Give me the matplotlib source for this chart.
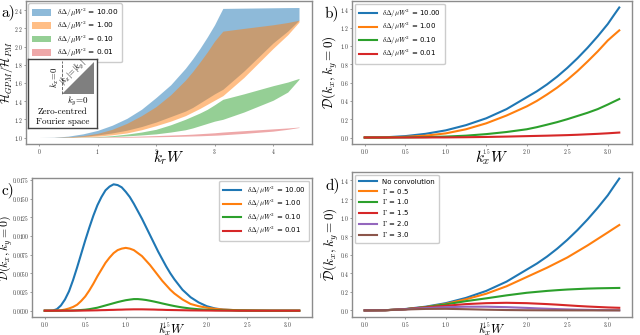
import numpy as np
import matplotlib
matplotlib.use("Agg")
import matplotlib.pyplot as plt
from matplotlib.patches import Polygon

plt.rcParams['mathtext.fontset'] = 'cm'
plt.rcParams['axes.formatter.use_mathtext'] = True

# ---------------- data ----------------
PI = np.pi
# panel a: band edges of H_GPM/H_PM vs k_r W
kr_a = [0, 0.25, 0.5, 0.75, 1.0, 1.25, 1.5, 1.75, 2.0, 2.25, 2.5, 2.625, 2.75, 2.875, 3.0, 3.07, PI, 3.5, 4.0, 4.25, 4.443]
a_blue_hi = [1, 1.002, 1.015, 1.04, 1.078, 1.135, 1.21, 1.31, 1.44, 1.58, 1.76, 1.865, 1.98, 2.105, 2.24, 2.33, 2.42, 2.423, 2.427, 2.429, 2.43]
a_blue_lo = [1, 1.0, 1.004, 1.012, 1.028, 1.05, 1.08, 1.12, 1.17, 1.23, 1.29, 1.33, 1.38, 1.43, 1.48, 1.505, 1.53, 1.73, 2.04, 2.17, 2.29]
a_orange_hi = [1, 1.0005, 1.007, 1.02, 1.045, 1.09, 1.155, 1.24, 1.34, 1.47, 1.63, 1.725, 1.83, 1.94, 2.06, 2.115, 2.17, 2.20, 2.24, 2.265, 2.29]
a_orange_lo = [1, 1.0, 1.002, 1.007, 1.015, 1.03, 1.05, 1.085, 1.13, 1.18, 1.24, 1.28, 1.32, 1.365, 1.41, 1.435, 1.46, 1.66, 1.98, 2.13, 2.27]
a_green_hi = [1, 1.0, 1.001, 1.004, 1.01, 1.02, 1.037, 1.06, 1.09, 1.14, 1.20, 1.235, 1.27, 1.31, 1.36, 1.39, 1.42, 1.48, 1.57, 1.61, 1.65]
a_green_lo = [1, 1.0, 1.0, 1.002, 1.005, 1.01, 1.018, 1.028, 1.04, 1.06, 1.085, 1.105, 1.13, 1.155, 1.18, 1.19, 1.20, 1.28, 1.41, 1.50, 1.64]
a_red_hi = [1, 1, 1.001, 1.002, 1.004, 1.007, 1.011, 1.016, 1.021, 1.027, 1.033, 1.037, 1.042, 1.047, 1.052, 1.056, 1.06, 1.075, 1.095, 1.105, 1.115]
a_red_lo = [1, 1, 1, 1, 1.0, 1.001, 1.003, 1.005, 1.008, 1.011, 1.015, 1.017, 1.019, 1.022, 1.025, 1.027, 1.03, 1.045, 1.07, 1.09, 1.11]

# panel b: D(kx, ky=0)
k_b = [0, 0.25, 0.5, 0.75, 1.0, 1.25, 1.5, 1.75, 2.0, 2.125, 2.25, 2.375, 2.5, 2.625, 2.75, 2.875, 3.0, 3.07, PI]
b_blue = [0, 0.002, 0.015, 0.04, 0.078, 0.135, 0.21, 0.31, 0.44, 0.505, 0.58, 0.665, 0.76, 0.865, 0.98, 1.105, 1.24, 1.33, 1.42]
b_orange = [0, 0.0005, 0.007, 0.02, 0.045, 0.09, 0.155, 0.24, 0.34, 0.40, 0.47, 0.545, 0.63, 0.725, 0.83, 0.94, 1.06, 1.115, 1.17]
b_green = [0, 0.0, 0.001, 0.004, 0.01, 0.02, 0.037, 0.06, 0.09, 0.113, 0.14, 0.168, 0.20, 0.235, 0.27, 0.31, 0.36, 0.39, 0.42]
b_red = [0, 0.0, 0.0, 0.0005, 0.001, 0.003, 0.006, 0.01, 0.015, 0.0175, 0.02, 0.023, 0.026, 0.030, 0.035, 0.040, 0.046, 0.05, 0.054]
labels_delta = ['10.00', '1.00', '0.10', '0.01']

# panel c: D(kx, ky=0)
k_c = [0, 0.05, 0.1, 0.15, 0.2, 0.25, 0.3, 0.35, 0.4, 0.45, 0.5, 0.55, 0.6, 0.65, 0.7, 0.75, 0.8, 0.85, 0.9, 0.95,
       1.0, 1.05, 1.1, 1.15, 1.2, 1.25, 1.3, 1.35, 1.4, 1.45, 1.5, 1.55, 1.6, 1.65, 1.7, 1.75, 1.8,
       1.9, 2.0, 2.1, 2.2, 2.4, 2.6, 2.8, PI]
c_blue = [0, 0, 0.00002, 0.0002, 0.0007, 0.0015, 0.0026, 0.0041, 0.0058, 0.0076, 0.0094, 0.0111, 0.0127, 0.0141, 0.0152, 0.0161, 0.0166, 0.0169, 0.0168, 0.0165,
          0.0159, 0.0152, 0.0143, 0.0133, 0.0123, 0.0112, 0.0101, 0.0090, 0.0079, 0.0069, 0.0059, 0.0050, 0.0042, 0.0035, 0.0028, 0.0023, 0.0018,
          0.0011, 0.0006, 0.0003, 0.00015, 0.00004, 0.00001, 0.0, 0.0]
c_orange = [0, 0, 0, 0.00001, 0.00005, 0.00015, 0.0003, 0.0005, 0.0008, 0.0013, 0.0019, 0.0027, 0.0036, 0.0046, 0.0055, 0.0064, 0.0071, 0.0077, 0.0081, 0.0083,
            0.0084, 0.0083, 0.0081, 0.0077, 0.0073, 0.0067, 0.0061, 0.0054, 0.0047, 0.0040, 0.0034, 0.0028, 0.0023, 0.0019, 0.0015, 0.0012, 0.0009,
            0.0006, 0.0004, 0.00025, 0.00015, 0.00005, 0.00002, 0.0, 0.0]
c_green = [0, 0, 0, 0, 0, 0.00001, 0.00001, 0.00003, 0.00005, 0.00009, 0.00013, 0.0002, 0.0003, 0.0004, 0.00055, 0.0007, 0.00085, 0.001, 0.00115, 0.00128,
           0.0014, 0.00148, 0.00155, 0.00155, 0.0015, 0.00143, 0.00133, 0.00122, 0.0011, 0.00097, 0.00085, 0.00073, 0.00062, 0.00052, 0.00043, 0.00036, 0.00029,
           0.00019, 0.00012, 0.00008, 0.00005, 0.00002, 0.00001, 0.0, 0.0]
c_red = [0, 0, 0, 0, 0, 0, 0, 0, 0.00001, 0.00001, 0.00002, 0.00003, 0.00004, 0.00005, 0.00007, 0.00008, 0.0001, 0.00011, 0.00013, 0.00014,
         0.00016, 0.00017, 0.00018, 0.00018, 0.00018, 0.00017, 0.00016, 0.00015, 0.00013, 0.00012, 0.0001, 0.00009, 0.00008, 0.00007, 0.00006, 0.00005, 0.00004,
         0.00003, 0.00002, 0.00001, 0.00001, 0.0, 0.0, 0.0, 0.0]

# panel d: convolved D
k_d = [0, 0.25, 0.5, 0.75, 1.0, 1.25, 1.5, 1.75, 2.0, 2.125, 2.25, 2.375, 2.5, 2.625, 2.75, 2.875, 3.0, 3.07, PI]
d_none = [0, 0.002, 0.015, 0.04, 0.078, 0.135, 0.21, 0.31, 0.44, 0.505, 0.58, 0.665, 0.76, 0.865, 0.98, 1.105, 1.24, 1.33, 1.42]
d_g05 = [0, 0.002, 0.013, 0.035, 0.07, 0.12, 0.18, 0.26, 0.36, 0.41, 0.46, 0.515, 0.57, 0.635, 0.70, 0.77, 0.84, 0.88, 0.92]
d_g10 = [0, 0.002, 0.013, 0.035, 0.065, 0.10, 0.13, 0.162, 0.19, 0.20, 0.21, 0.218, 0.225, 0.23, 0.235, 0.238, 0.24, 0.241, 0.242]
d_g15 = [0, 0.002, 0.013, 0.032, 0.05, 0.068, 0.078, 0.082, 0.078, 0.073, 0.068, 0.062, 0.055, 0.048, 0.042, 0.037, 0.032, 0.03, 0.028]
d_g20 = [0, 0.002, 0.012, 0.025, 0.035, 0.04, 0.04, 0.035, 0.027, 0.022, 0.018, 0.014, 0.011, 0.008, 0.006, 0.004, 0.003, 0.0025, 0.002]
d_g30 = [0, 0.002, 0.01, 0.016, 0.017, 0.013, 0.008, 0.004, 0.002, 0.0015, 0.001, 0.0007, 0.0005, 0.0003, 0.0002, 0.0001, 0, 0, 0]
labels_d = ['No convolution', r'$\Gamma$ = 0.5', r'$\Gamma$ = 1.0', r'$\Gamma$ = 1.5', r'$\Gamma$ = 2.0', r'$\Gamma$ = 3.0']

colors = ['#1f77b4', '#ff7f0e', '#2ca02c', '#d62728', '#9467bd', '#8c564b']

# ---------------- figure ----------------
W, H = 640, 335
fig = plt.figure(figsize=(6.4, 3.35), dpi=100)

def ax_px(l, r, t, b):
    return fig.add_axes([l / W, (H - b) / H, (r - l) / W, (b - t) / H])

SP = '#8c8c8c'
def style(ax):
    for s in ax.spines.values():
        s.set_color(SP)
        s.set_linewidth(1.0)
    ax.tick_params(labelsize=4.0, length=1.6, width=0.6, color=SP, labelcolor='#333333', pad=0.6)

def place_labels(ax, l, r, t, b, ylab_x, xlab_top):
    # ylab_x: right edge of the rotated y label; xlab_top: top of the x label (figure pixels)
    ax.yaxis.set_label_coords((ylab_x - l) / (r - l), 0.5)
    ax.xaxis.set_label_coords(0.5, (b - xlab_top) / (b - t))

def dlab(i):
    return r'$\delta\Delta/\mu W^2$ = ' + labels_delta[i]

LEG = dict(fontsize=5.0, handlelength=2.6, borderpad=0.55, labelspacing=0.2,
           framealpha=1, edgecolor='#cccccc', handletextpad=0.8, borderaxespad=0.4)

# panel a
A = (26, 312, 1, 144)
axa = ax_px(*A)
bands = [(a_blue_lo, a_blue_hi), (a_orange_lo, a_orange_hi), (a_green_lo, a_green_hi), (a_red_lo, a_red_hi)]
for i, (lo, hi) in enumerate(bands):
    axa.fill_between(kr_a, lo, hi, color=colors[i], alpha=0.5 if i < 3 else 0.4, lw=0, label=dlab(i))
style(axa)
axa.set_xlabel(r'$k_rW$', fontsize=11)
axa.set_ylabel(r'$\mathcal{H}_{GPM}/\mathcal{H}_{PM}$', fontsize=8.5)
place_labels(axa, *A, ylab_x=15.5, xlab_top=148.5)
axa.legend(loc='upper left', fontsize=5.3, handlelength=2.6, handleheight=1.0, borderpad=0.45,
           labelspacing=0.15, framealpha=1, edgecolor='#cccccc', handletextpad=0.8, borderaxespad=0.3)

# inset in panel a
ins = ax_px(28, 97, 59, 128)
ins.set_xlim(0, 1); ins.set_ylim(0, 1)
ins.set_xticks([]); ins.set_yticks([])
for s in ins.spines.values():
    s.set_color('#444444'); s.set_linewidth(1.0)
ins.add_patch(Polygon([[0.49, 0.49], [0.95, 0.49], [0.95, 0.95]], closed=True, facecolor='#7f7f7f', edgecolor='none'))
ins.plot([0.49, 0.49], [0.49, 0.97], ls='--', color='#555555', lw=0.6)
ins.plot([0.49, 0.95], [0.49, 0.49], ls='--', color='white', lw=0.6)
ins.text(0.39, 0.73, r'$k_x$=0', rotation=90, ha='center', va='center', fontsize=6.2, family='cmr10')
ins.text(0.65, 0.80, r'$|k_x|$=$|k_y|$', rotation=45, ha='center', va='center', fontsize=6.0, family='cmr10')
ins.text(0.72, 0.39, r'$k_y$=0', ha='center', va='center', fontsize=6.5, family='cmr10')
ins.text(0.5, 0.24, 'Zero-centred', ha='center', va='center', fontsize=6.5, family='cmr10')
ins.text(0.5, 0.09, 'Fourier space', ha='center', va='center', fontsize=6.5, family='cmr10')

# panel b
B = (352, 632, 1, 144)
axb = ax_px(*B)
for i, y in enumerate([b_blue, b_orange, b_green, b_red]):
    axb.plot(k_b, y, color=colors[i], lw=1.5, label=dlab(i))
style(axb)
axb.set_xlabel(r'$k_xW$', fontsize=11)
axb.set_ylabel(r'$\mathcal{D}(k_x, k_y=0)$', fontsize=9.5)
place_labels(axb, *B, ylab_x=340, xlab_top=148.5)
axb.legend(loc='upper left', **LEG)

# panel c
C = (32, 312, 178, 317)
axc = ax_px(*C)
for i, y in enumerate([c_blue, c_orange, c_green, c_red]):
    axc.plot(k_c, y, color=colors[i], lw=1.5, label=dlab(i))
style(axc)
axc.set_yticks(np.arange(0, 0.0176, 0.0025))
axc.set_xlabel(r'$k_xW$', fontsize=9)
axc.set_ylabel(r'$\mathcal{D}(k_x, k_y=0)$', fontsize=8.5)
place_labels(axc, *C, ylab_x=15, xlab_top=322)
axc.legend(loc='upper right', **LEG)

# panel d
D = (352, 632, 172, 317)
axd = ax_px(*D)
for i, y in enumerate([d_none, d_g05, d_g10, d_g15, d_g20, d_g30]):
    axd.plot(k_d, y, color=colors[i], lw=1.5, label=labels_d[i])
style(axd)
axd.set_xlabel(r'$k_xW$', fontsize=9)
axd.set_ylabel(r'$\bar{\mathcal{D}}(k_x, k_y=0)$', fontsize=9.5)
place_labels(axd, *D, ylab_x=341, xlab_top=322)
axd.legend(loc='upper left', **dict(LEG, labelspacing=0.28))

for ax in (axa, axb, axc, axd):
    for lab in ax.get_xticklabels() + ax.get_yticklabels():
        lab.set_family('cmr10')

# panel letters
fig.text(1 / W, 1 - 12 / H, 'a)', fontsize=11, family='cmr10', va='center')
fig.text(325 / W, 1 - 13 / H, 'b)', fontsize=11, family='cmr10', va='center')
fig.text(1 / W, 1 - 190 / H, 'c)', fontsize=11, family='cmr10', va='center')
fig.text(325 / W, 1 - 185 / H, 'd)', fontsize=11, family='cmr10', va='center')

fig.savefig('out.png', dpi=100)
